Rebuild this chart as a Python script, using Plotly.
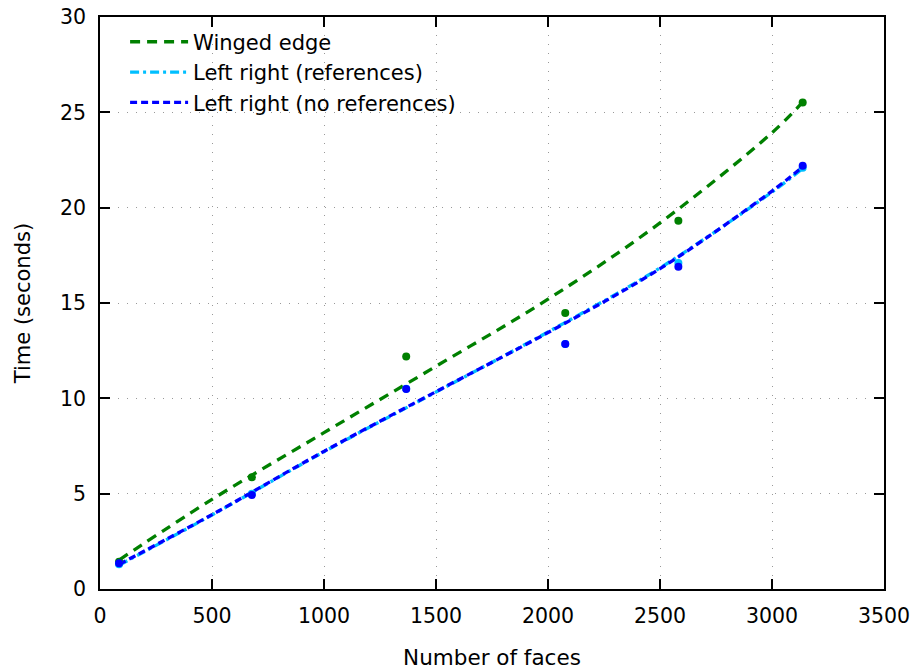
import plotly.graph_objects as go

# measured points
faces = [85, 678, 1367, 2077, 2582, 3137]
winged_edge = [1.43, 5.86, 12.2, 14.47, 19.31, 25.52]
lr_refs = [1.3, 5.0, 10.5, 12.85, 17.1, 22.1]
lr_norefs = [1.35, 4.93, 10.49, 12.85, 16.9, 22.2]

# fitted curves
fit_x = [85, 500, 1000, 1500, 2000, 2500, 3000, 3137]
fit_winged_edge = [1.52, 4.70, 8.2, 11.68, 15.2, 19.2, 23.93, 25.53]
fit_lr_refs = [1.25, 3.88, 7.2, 10.33, 13.48, 16.84, 20.82, 22.05]
fit_lr_norefs = [1.29, 3.9, 7.22, 10.35, 13.45, 16.8, 20.87, 22.14]

x_ticks = [0, 500, 1000, 1500, 2000, 2500, 3000, 3500]
y_ticks = [0, 5, 10, 15, 20, 25, 30]

series = [
    ("Winged edge", winged_edge, fit_winged_edge, "#008000", "10px,7px"),
    ("Left right (references)", lr_refs, fit_lr_refs, "#00BFFF", "9px,4px,3px,4px"),
    ("Left right (no references)", lr_norefs, fit_lr_norefs, "#0000FF", "7px,4px"),
]

fig = go.Figure()
for name, vals, fit, color, dash in series:
    fig.add_trace(go.Scatter(x=fit_x, y=fit, mode="lines", name=name,
                             line=dict(color=color, width=3.3, dash=dash,
                                       shape="spline", smoothing=1.0)))
for name, vals, fit, color, _ in series:
    fig.add_trace(go.Scatter(x=faces, y=vals, mode="markers", showlegend=False,
                             marker=dict(color=color, size=8), name=name))

axis_common = dict(showline=True, mirror="allticks", linecolor="black", linewidth=1.5,
                   ticks="inside", ticklen=10, tickwidth=1.5, tickcolor="black",
                   showgrid=True, gridcolor="#999999", griddash="1px,8px", gridwidth=1,
                   zeroline=False, automargin=False, ticklabelstandoff=8,
                   tickfont=dict(size=20.5, color="black", family="DejaVu Sans"))

fig.update_layout(
    width=912, height=670,
    margin=dict(l=100, r=28, t=17, b=81),
    paper_bgcolor="white", plot_bgcolor="white",
    font=dict(family="DejaVu Sans", size=20, color="black"),
    xaxis=dict(range=[0, 3500], tickvals=x_ticks,
               title=dict(text="Number of faces", standoff=35,
                          font=dict(size=21.5, family="DejaVu Sans", color="black")),
               **axis_common),
    yaxis=dict(range=[0, 30], tickvals=y_ticks,
               title=dict(text="Time (seconds)", standoff=24,
                          font=dict(size=21, family="DejaVu Sans", color="black")),
               **axis_common),
    legend=dict(x=0.032, y=0.992, xanchor="left", yanchor="top", bgcolor="rgba(0,0,0,0)",
                font=dict(size=21), tracegroupgap=0, itemwidth=58),
)

fig.write_html("out.html", post_script="document.body.style.margin='0';",
               config={"displayModeBar": False})
